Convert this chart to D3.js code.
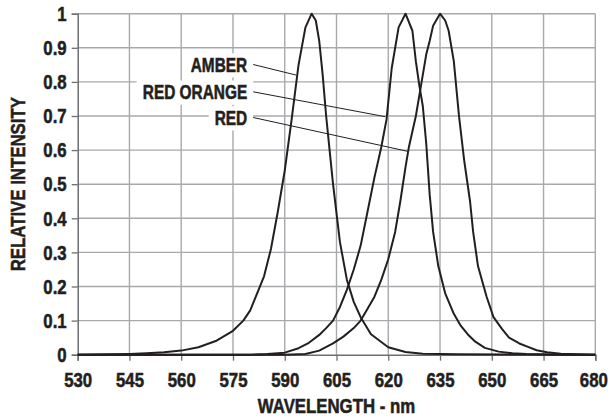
<!DOCTYPE html>
<html>
<head>
<meta charset="utf-8">
<script src="https://cdn.jsdelivr.net/npm/d3@7"></script>
<style>
  body { margin: 0; background: #fff; }
  svg { display: block; }
  text { font-family: "Liberation Sans", Arial, sans-serif; font-weight: bold; fill: #231f20; stroke: #231f20; stroke-width: 0.55px; }
</style>
</head>
<body>
<svg id="chart" width="608" height="419"></svg>
<script>
// x ticks (nm) and y ticks
var xTicks = [530, 545, 560, 575, 590, 605, 620, 635, 650, 665, 680];
var yTicks = [0, 0.1, 0.2, 0.3, 0.4, 0.5, 0.6, 0.7, 0.8, 0.9, 1];

// spectra: wavelength (nm) / relative intensity
var amberNm  = [530, 540, 545, 550, 555, 560, 565, 570, 575, 578, 580, 582, 584, 586, 588, 590, 592, 594, 596, 597.8, 599, 600, 601, 602, 604, 606, 608, 610, 612, 615, 620, 625, 630, 640, 680];
var amberVal = [0, 0.001, 0.002, 0.004, 0.007, 0.012, 0.022, 0.04, 0.07, 0.10, 0.13, 0.18, 0.23, 0.31, 0.42, 0.54, 0.69, 0.85, 0.96, 1.0, 0.98, 0.92, 0.82, 0.70, 0.50, 0.33, 0.22, 0.155, 0.11, 0.06, 0.022, 0.008, 0.003, 0.001, 0];

var redOrangeNm  = [530, 580, 585, 590, 594, 597, 600, 602, 604, 606, 608, 610, 612, 614, 616, 618, 619.5, 621, 623, 625, 627, 628, 629, 630, 631, 632, 633, 634.5, 636.5, 639, 641, 643, 645, 648, 652, 656, 660, 670, 680];
var redOrangeVal = [0, 0, 0.002, 0.006, 0.019, 0.035, 0.058, 0.078, 0.10, 0.14, 0.19, 0.25, 0.32, 0.42, 0.52, 0.61, 0.69, 0.84, 0.96, 1.0, 0.95, 0.86, 0.79, 0.73, 0.62, 0.47, 0.36, 0.26, 0.18, 0.12, 0.085, 0.06, 0.04, 0.02, 0.009, 0.004, 0.002, 0, 0];

var redNm  = [530, 590, 596, 600, 604, 607, 610, 612, 614, 616, 618, 620, 622, 623.5, 625, 626, 628, 629.5, 631, 632, 633, 635, 636.5, 637.5, 639, 640.5, 642, 643.7, 644.6, 646, 648.5, 650.5, 653, 655, 658, 660.5, 663, 666, 670, 675, 680];
var redVal = [0, 0, 0.002, 0.012, 0.033, 0.053, 0.078, 0.10, 0.135, 0.17, 0.22, 0.28, 0.36, 0.45, 0.55, 0.61, 0.70, 0.79, 0.88, 0.92, 0.965, 1.0, 0.98, 0.95, 0.86, 0.70, 0.57, 0.45, 0.36, 0.26, 0.17, 0.11, 0.075, 0.05, 0.033, 0.023, 0.013, 0.007, 0.003, 0.001, 0];

// callouts: label and the point on the curve the leader goes to
var calloutNames = ["AMBER", "RED ORANGE", "RED"];
var calloutNm    = [593.3, 619.1, 625.8];
var calloutVal   = [0.82, 0.698, 0.596];

var svg = d3.select('#chart');
var margin = {top: 13.7, right: 12.7, bottom: 64.3, left: 77.7};
var width = 608 - margin.left - margin.right;
var height = 419 - margin.top - margin.bottom;

var x = d3.scaleLinear().domain([530, 680]).range([0, width]);
var y = d3.scaleLinear().domain([0, 1]).range([height, 0]);

// squeeze a text horizontally around its own x (no condensed face installed)
function condense(sel, s) {
  sel.each(function() {
    var t = d3.select(this);
    var x0 = +t.attr('x') || 0;
    var pre = t.attr('transform') || '';
    t.attr('transform', pre + ' translate(' + x0 + ',0) scale(' + s + ',1) translate(' + (-x0) + ',0)');
  });
}

var g = svg.append('g').attr('transform', 'translate(' + margin.left + ',' + margin.top + ')');

// grid
g.append('g').selectAll('line').data(xTicks.slice(1)).enter().append('line')
  .attr('x1', function(d) { return x(d); }).attr('x2', function(d) { return x(d); })
  .attr('y1', 0).attr('y2', height)
  .attr('stroke', '#a7a9ac').attr('stroke-width', 1.4);
g.append('g').selectAll('line').data(yTicks.slice(1)).enter().append('line')
  .attr('x1', 0).attr('x2', width)
  .attr('y1', function(d) { return y(d); }).attr('y2', function(d) { return y(d); })
  .attr('stroke', '#a7a9ac').attr('stroke-width', 1.4);

// axes
var xAxis = g.append('g').attr('transform', 'translate(0,' + height + ')')
  .call(d3.axisBottom(x).tickValues(xTicks).tickSize(6).tickPadding(11).tickFormat(d3.format('d')));
var yAxis = g.append('g')
  .call(d3.axisLeft(y).tickValues(yTicks).tickSize(6).tickPadding(5).tickFormat(function(d) { return d3.format('~g')(d); }));
[xAxis, yAxis].forEach(function(a) {
  a.select('.domain').attr('stroke', '#6d6e71').attr('stroke-width', 1.5);
  a.selectAll('.tick line').attr('stroke', '#6d6e71').attr('stroke-width', 1.3);
  a.selectAll('.tick text').attr('font-size', 21).attr('font-family', null).style('fill', '#231f20')
    .call(condense, 0.8);
});
// last label sits on the page edge, nudge it in a hair
xAxis.selectAll('.tick text').filter(function(d) { return d === 680; }).attr('x', -2)
  .attr('transform', 'translate(-2,0) scale(0.8,1) translate(2,0)');

// callout labels with white backing
var labelRight = 169.5;
var labelBase = [58.3, 85.6, 111.3];
var labelScale = 0.79;
var labels = g.append('g');
calloutNames.forEach(function(name, i) {
  var t = labels.append('text').attr('x', labelRight).attr('y', labelBase[i])
    .attr('text-anchor', 'end').attr('font-size', 19.5).text(name)
    .call(condense, labelScale);
  var b = t.node().getBBox();
  var w = b.width * labelScale;
  labels.insert('rect', 'text').attr('x', labelRight - w - 6).attr('y', b.y - 1)
    .attr('width', w + 12).attr('height', b.height + 2).attr('fill', '#fff');
});

// leaders
g.append('g').selectAll('line').data(calloutNames).enter().append('line')
  .attr('x1', labelRight + 6).attr('y1', function(d, i) { return labelBase[i] - 7.5; })
  .attr('x2', function(d, i) { return x(calloutNm[i]); })
  .attr('y2', function(d, i) { return y(calloutVal[i]); })
  .attr('stroke', '#231f20').attr('stroke-width', 1);

// spectra
var line = d3.line().x(function(d) { return x(d[0]); }).y(function(d) { return y(d[1]); });
[[amberNm, amberVal], [redOrangeNm, redOrangeVal], [redNm, redVal]].forEach(function(s) {
  g.append('path').datum(d3.zip(s[0], s[1]))
    .attr('d', line).attr('fill', 'none')
    .attr('stroke', '#231f20').attr('stroke-width', 2).attr('stroke-linejoin', 'round');
});

// titles
svg.append('text').attr('x', margin.left + width / 2).attr('y', 413)
  .attr('text-anchor', 'middle').attr('font-size', 21).text('WAVELENGTH - nm')
  .call(condense, 0.8);
svg.append('text').attr('transform', 'translate(25,' + (margin.top + height / 2) + ') rotate(-90)')
  .attr('text-anchor', 'middle').attr('font-size', 21).text('RELATIVE INTENSITY')
  .call(condense, 0.8);
</script>
</body>
</html>
